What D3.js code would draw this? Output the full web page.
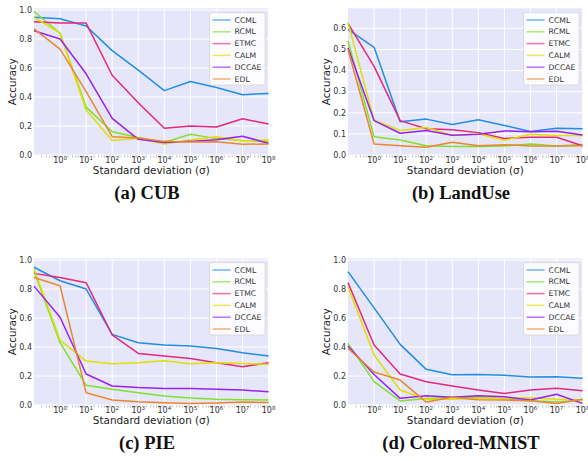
<!DOCTYPE html>
<html>
<head>
<meta charset="utf-8">
<script src="https://cdn.jsdelivr.net/npm/d3@7"></script>
<style>
  body { margin: 0; background: #fff; }
  svg { display: block; font-family: "DejaVu Sans", sans-serif; }
</style>
</head>
<body>
<div id="chart"></div>
<script>
// methods and their colours (legend order)
const methods = ["CCML", "RCML", "ETMC", "CALM", "DCCAE", "EDL"];
const colors = ["#1e8fe6", "#80e02a", "#e62878", "#dfdf00", "#9b20f0", "#ea872d"];

// noise levels (first point sits at the left edge, 10^-1)
const sigma = [1e-1, 1e0, 1e1, 1e2, 1e3, 1e4, 1e5, 1e6, 1e7, 1e8];
const xTickExps = [0, 1, 2, 3, 4, 5, 6, 7, 8];
const unitTicks = [0, 0.2, 0.4, 0.6, 0.8, 1.0];
const landTicks = [0, 0.1, 0.2, 0.3, 0.4, 0.5, 0.6];

// accuracy, one row per method, in the order of `methods`
const cub = [
  [0.95, 0.94, 0.89, 0.72, 0.585, 0.444, 0.507, 0.466, 0.416, 0.425],
  [0.99, 0.84, 0.33, 0.16, 0.12, 0.087, 0.143, 0.113, 0.10, 0.092],
  [0.92, 0.91, 0.91, 0.55, 0.36, 0.184, 0.20, 0.193, 0.25, 0.214],
  [0.95, 0.84, 0.31, 0.10, 0.115, 0.076, 0.103, 0.126, 0.097, 0.103],
  [0.857, 0.80, 0.56, 0.253, 0.108, 0.087, 0.094, 0.106, 0.13, 0.08],
  [0.87, 0.73, 0.437, 0.126, 0.117, 0.094, 0.09, 0.092, 0.074, 0.076]
];
const landUse = [
  [0.595, 0.51, 0.157, 0.17, 0.144, 0.167, 0.14, 0.111, 0.127, 0.124],
  [0.54, 0.087, 0.071, 0.044, 0.04, 0.04, 0.043, 0.052, 0.043, 0.05],
  [0.624, 0.42, 0.163, 0.124, 0.12, 0.106, 0.078, 0.084, 0.084, 0.044],
  [0.627, 0.165, 0.116, 0.13, 0.092, 0.10, 0.07, 0.098, 0.092, 0.092],
  [0.508, 0.163, 0.103, 0.116, 0.094, 0.098, 0.114, 0.11, 0.113, 0.095],
  [0.50, 0.052, 0.044, 0.037, 0.06, 0.044, 0.049, 0.043, 0.043, 0.044]
];
const pie = [
  [0.95, 0.857, 0.80, 0.487, 0.43, 0.414, 0.407, 0.39, 0.36, 0.338],
  [0.926, 0.43, 0.136, 0.108, 0.085, 0.062, 0.048, 0.039, 0.037, 0.034],
  [0.908, 0.88, 0.844, 0.483, 0.356, 0.338, 0.32, 0.292, 0.264, 0.292],
  [0.94, 0.448, 0.303, 0.285, 0.292, 0.306, 0.285, 0.292, 0.287, 0.28],
  [0.82, 0.605, 0.214, 0.131, 0.12, 0.113, 0.113, 0.108, 0.103, 0.092],
  [0.88, 0.823, 0.085, 0.034, 0.023, 0.016, 0.011, 0.014, 0.02, 0.018]
];
const mnist = [
  [0.92, 0.67, 0.418, 0.246, 0.209, 0.211, 0.205, 0.193, 0.195, 0.184],
  [0.425, 0.161, 0.028, 0.044, 0.053, 0.053, 0.044, 0.03, 0.02, 0.034],
  [0.844, 0.414, 0.214, 0.161, 0.131, 0.103, 0.08, 0.103, 0.115, 0.099],
  [0.816, 0.345, 0.103, 0.039, 0.039, 0.046, 0.046, 0.05, 0.039, 0.034],
  [0.407, 0.21, 0.046, 0.064, 0.053, 0.064, 0.057, 0.034, 0.074, 0.011],
  [0.39, 0.228, 0.172, 0.02, 0.053, 0.037, 0.034, 0.03, 0.011, 0.039]
];

const W = 588, H = 461;
const plotW = 234.6, plotH = 146.7;

const panels = [
  {title: "(a) CUB", data: cub, yMax: 1.012, yTicks: unitTicks, left: 34, top: 8.3, titleX: 147, titleY: 199},
  {title: "(b) LandUse", data: landUse, yMax: 0.695, yTicks: landTicks, left: 348, top: 8.3, titleX: 461, titleY: 199},
  {title: "(c) PIE", data: pie, yMax: 1.012, yTicks: unitTicks, left: 34, top: 258.3, titleX: 147, titleY: 449},
  {title: "(d) Colored-MNIST", data: mnist, yMax: 1.012, yTicks: unitTicks, left: 348, top: 258.3, titleX: 461, titleY: 449}
];

const svg = d3.select("#chart")
  .append("svg")
  .attr("width", W)
  .attr("height", H);

panels.forEach(function(p) {
  const g = svg.append("g")
    .attr("transform", `translate(${p.left},${p.top})`);

  const x = d3.scaleLog()
    .domain([1e-1, 1e8])
    .range([0, plotW]);

  const y = d3.scaleLinear()
    .domain([0, p.yMax])
    .range([plotH, 0]);

  // background + grid
  g.append("rect")
    .attr("width", plotW)
    .attr("height", plotH)
    .attr("fill", "#e6e6fa");

  g.selectAll(".ygrid")
    .data(p.yTicks)
    .enter().append("line")
    .attr("x1", 0)
    .attr("x2", plotW)
    .attr("y1", d => y(d))
    .attr("y2", d => y(d))
    .attr("stroke", "#fff")
    .attr("stroke-width", 1);

  g.selectAll(".xgrid")
    .data(xTickExps)
    .enter().append("line")
    .attr("x1", d => x(Math.pow(10, d)))
    .attr("x2", d => x(Math.pow(10, d)))
    .attr("y1", 0)
    .attr("y2", plotH)
    .attr("stroke", "#fff")
    .attr("stroke-width", 1);

  // minor log ticks below the plot
  const minor = [];
  for (let e = -1; e < 8; e++) {
    for (let k = 2; k <= 9; k++) minor.push(k * Math.pow(10, e));
  }
  g.selectAll(".minor")
    .data(minor)
    .enter().append("line")
    .attr("x1", d => x(d))
    .attr("x2", d => x(d))
    .attr("y1", plotH + 0.5)
    .attr("y2", plotH + 2.5)
    .attr("stroke", "#999")
    .attr("stroke-width", 0.7);

  // x tick labels 10^n
  const xl = g.selectAll(".xlab")
    .data(xTickExps)
    .enter().append("text")
    .attr("x", d => x(Math.pow(10, d)))
    .attr("y", plotH + 8.3)
    .attr("text-anchor", "middle")
    .attr("font-size", "8px")
    .attr("fill", "#333");
  xl.append("tspan").text("10");
  xl.append("tspan")
    .attr("dy", -3.3)
    .attr("font-size", "5.6px")
    .text(d => d);

  // y tick labels
  g.selectAll(".ylab")
    .data(p.yTicks)
    .enter().append("text")
    .attr("x", -2)
    .attr("y", d => y(d))
    .attr("dy", "0.35em")
    .attr("text-anchor", "end")
    .attr("font-size", "8px")
    .attr("fill", "#333")
    .text(d => d3.format(".1f")(d));

  // series
  const line = d3.line()
    .x((d, i) => x(sigma[i]))
    .y(d => y(d));

  p.data.forEach(function(vals, i) {
    g.append("path")
      .datum(vals)
      .attr("fill", "none")
      .attr("stroke", colors[i])
      .attr("stroke-width", 1.5)
      .attr("stroke-linejoin", "round")
      .attr("d", line);
  });

  // axis labels
  g.append("text")
    .attr("x", plotW / 2)
    .attr("y", plotH + 19.5)
    .attr("text-anchor", "middle")
    .attr("font-size", "10.4px")
    .attr("fill", "#222")
    .text("Standard deviation (σ)");

  g.append("text")
    .attr("transform", `translate(${-18.5},${plotH / 2}) rotate(-90)`)
    .attr("text-anchor", "middle")
    .attr("font-size", "10.3px")
    .attr("fill", "#222")
    .text("Accuracy");

  // legend
  const lg = g.append("g")
    .attr("transform", `translate(${plotW - 59},${4.4})`);
  lg.append("rect")
    .attr("width", 55.5)
    .attr("height", 72.3)
    .attr("rx", 2)
    .attr("fill", "#fff")
    .attr("fill-opacity", 0.85)
    .attr("stroke", "#d4d4d4")
    .attr("stroke-width", 0.8);
  methods.forEach(function(m, i) {
    const yy = 7.3 + i * 11.8;
    lg.append("line")
      .attr("x1", 3)
      .attr("x2", 21)
      .attr("y1", yy)
      .attr("y2", yy)
      .attr("stroke", colors[i])
      .attr("stroke-opacity", 0.65)
      .attr("stroke-width", 1.5);
    lg.append("text")
      .attr("x", 25)
      .attr("y", yy)
      .attr("dy", "0.35em")
      .attr("font-size", "7.7px")
      .attr("fill", "#333")
      .text(m);
  });

  // sub-figure caption
  svg.append("text")
    .attr("x", p.titleX)
    .attr("y", p.titleY)
    .attr("text-anchor", "middle")
    .style("font-family", "'Liberation Serif', 'DejaVu Serif', serif")
    .style("font-weight", "bold")
    .style("font-size", "18.5px")
    .attr("fill", "#111")
    .text(p.title);
});
</script>
</body>
</html>
